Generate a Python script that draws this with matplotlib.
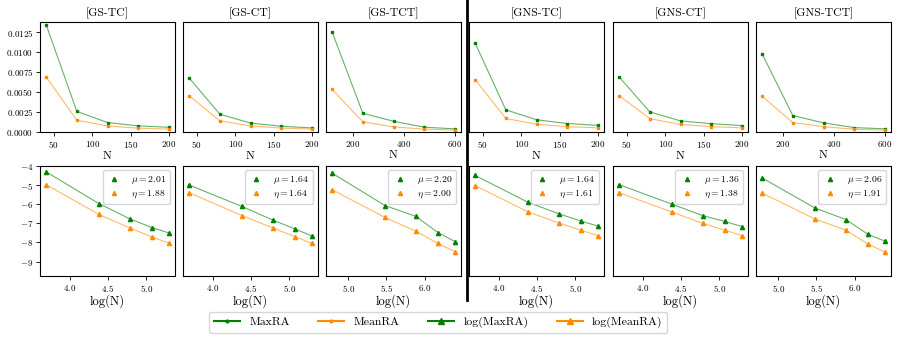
import numpy as np
import matplotlib
matplotlib.use("Agg")
import matplotlib.pyplot as plt
from matplotlib.lines import Line2D

plt.rcParams["font.family"] = "serif"
plt.rcParams["font.serif"] = ["cmr10"]
plt.rcParams["mathtext.fontset"] = "cm"
plt.rcParams["axes.formatter.use_mathtext"] = True

titles = ["[GS-TC]", "[GS-CT]", "[GS-TCT]", "[GNS-TC]", "[GNS-CT]", "[GNS-TCT]"]
n_small = [40, 80, 120, 160, 200]
n_large = [120, 240, 360, 480, 600]
n_values = [n_small, n_small, n_large, n_small, n_small, n_large]

max_ra = [
    [0.01343, 0.00255, 0.00115, 0.000732, 0.000553],
    [0.00674, 0.00220, 0.00108, 0.000683, 0.000471],
    [0.01252, 0.00231, 0.00131, 0.000565, 0.000353],
    [0.01111, 0.00274, 0.00150, 0.001027, 0.000792],
    [0.00687, 0.00248, 0.00136, 0.001008, 0.000769],
    [0.00975, 0.00203, 0.00111, 0.000516, 0.000360],
]
mean_ra = [
    [0.00687, 0.00145, 0.000717, 0.000448, 0.000325],
    [0.00452, 0.00136, 0.000717, 0.000457, 0.000319],
    [0.00530, 0.00124, 0.000605, 0.000319, 0.000208],
    [0.00654, 0.00166, 0.000930, 0.000636, 0.000481],
    [0.00452, 0.00164, 0.000912, 0.000636, 0.000481],
    [0.00443, 0.00114, 0.000636, 0.000310, 0.000204],
]
mu = ["2.01", "1.64", "2.20", "1.64", "1.36", "2.06"]
eta = ["1.88", "1.64", "2.00", "1.61", "1.38", "1.91"]

green = "green"
orange = "darkorange"

fig = plt.figure(figsize=(9, 3.44), dpi=100)
lefts = [40, 183, 326, 469, 613, 756]
W, H = 900.0, 344.0
top_axes, bot_axes = [], []
for i, x0 in enumerate(lefts):
    ax1 = fig.add_axes([x0 / W, 1 - 131.7 / H, 135 / W, 110 / H],
                       sharey=top_axes[0] if top_axes else None)
    ax2 = fig.add_axes([x0 / W, 1 - 276 / H, 135 / W, 110.5 / H],
                       sharey=bot_axes[0] if bot_axes else None)
    top_axes.append(ax1)
    bot_axes.append(ax2)

    n = np.array(n_values[i])
    mx = np.array(max_ra[i])
    mn = np.array(mean_ra[i])

    # raw values
    ax1.plot(n, mx, color=green, alpha=0.6, lw=0.8)
    ax1.plot(n, mx, ls="none", marker="s", ms=1.6, color=green)
    ax1.plot(n, mn, color=orange, alpha=0.6, lw=0.8)
    ax1.plot(n, mn, ls="none", marker="s", ms=1.6, color=orange)
    ax1.set_title(titles[i], fontsize=8.5, pad=4)
    ax1.set_xlabel("N", fontsize=8.5, labelpad=1)

    # log-log
    ln = np.log(n)
    ax2.plot(ln, np.log(mx), color=green, alpha=0.6, lw=0.8)
    ax2.plot(ln, np.log(mx), ls="none", marker="^", ms=3, color=green,
             label=r"$\mu = %s$" % mu[i])
    ax2.plot(ln, np.log(mn), color=orange, alpha=0.6, lw=0.8)
    ax2.plot(ln, np.log(mn), ls="none", marker="^", ms=3, color=orange,
             label=r"$\eta = %s$" % eta[i])
    ax2.set_xlabel("log(N)", fontsize=9, labelpad=0)
    ax2.legend(loc="upper right", fontsize=7, handlelength=1.5,
               borderpad=0.4, labelspacing=0.3, handletextpad=1.0)

    for ax in (ax1, ax2):
        ax.tick_params(labelsize=6.5, length=3, width=0.6, pad=2)
        if i > 0:
            ax.tick_params(axis="y", left=False, labelleft=False)

top_axes[0].set_ylim(0, 0.0138)
bot_axes[0].set_ylim(-9.75, -3.98)

# divider between GS and GNS groups
fig.add_artist(Line2D([467 / W, 467 / W], [1.0, 1 - 300 / H],
                      color="black", lw=2.0, transform=fig.transFigure))

handles = [
    Line2D([], [], color=green, marker=".", ms=4),
    Line2D([], [], color=orange, marker=".", ms=4),
    Line2D([], [], color=green, marker="^", ms=5),
    Line2D([], [], color=orange, marker="^", ms=5),
]
labels = ["MaxRA", "MeanRA", "log(MaxRA)", "log(MeanRA)"]
fig.legend(handles, labels, loc="lower center", ncol=4, fontsize=8.5,
           bbox_to_anchor=(0.487, 0.015), columnspacing=2.4, handlelength=2.2)

fig.savefig("out.png", dpi=100)
